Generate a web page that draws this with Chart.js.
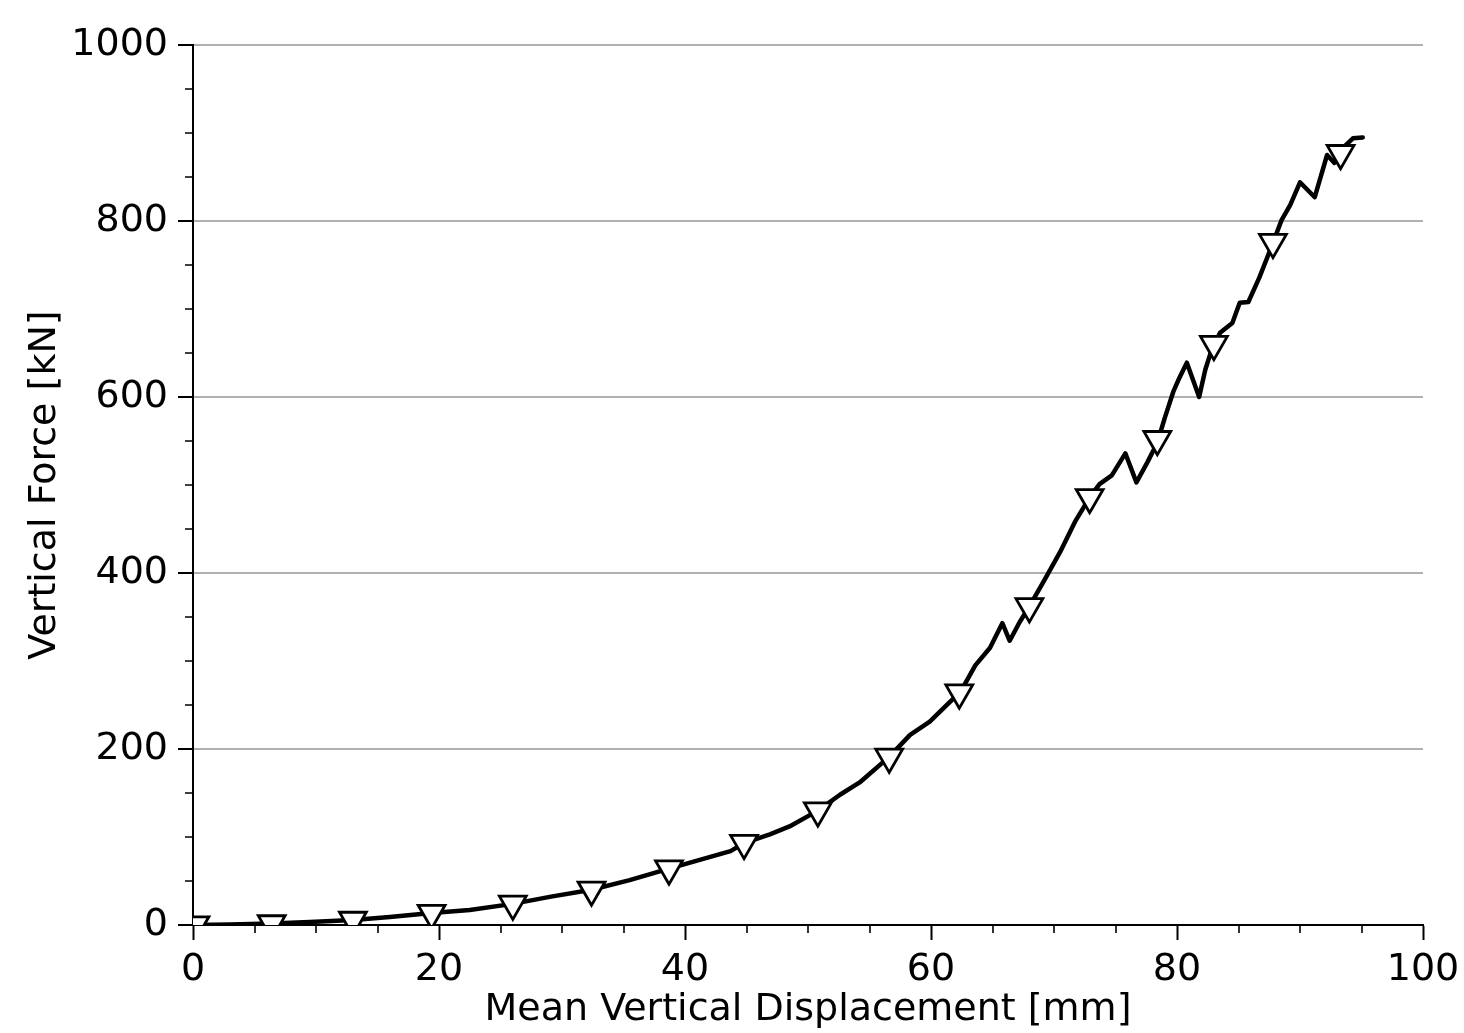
<!DOCTYPE html>
<html>
<head>
<meta charset="utf-8">
<script src="https://cdn.jsdelivr.net/npm/chart.js@4.4.1/dist/chart.umd.min.js"></script>
<style>
  html, body { margin: 0; padding: 0; background: #fff; }
  #wrap { width: 1464px; height: 1033px; }
</style>
</head>
<body>
<div id="wrap"><canvas id="chart"></canvas></div>
<script>
// measured curve: mean vertical displacement [mm] vs vertical force [kN]
const dispMm = [0, 3.0, 6.4, 9.5, 13.0, 16.0, 19.4, 22.5, 26.0, 29.0, 32.4, 35.5, 38.7, 41.2, 43.7, 44.8,
    46.9, 48.5, 50.8, 52.6, 54.2, 56.6, 58.3, 59.9, 61.5, 62.4, 63.6, 64.8, 65.8, 66.4, 67.2, 68.0,
    69.3, 70.5, 71.7, 72.9, 73.7, 74.7, 75.8, 76.7, 77.6, 78.4, 79.0, 79.7, 80.2, 80.8, 81.8, 82.3,
    82.8, 83.5, 84.5, 85.1, 85.8, 86.7, 87.8, 88.5, 89.2, 90.0, 91.2, 92.2, 92.8, 93.7, 94.3, 95.1];
const forceKn = [0, 0.6, 1.7, 3.4, 5.7, 9, 13.6, 17, 24, 32, 40, 51, 64, 74, 84, 93,
    103, 112, 130, 148, 162, 191, 216, 231, 253, 265, 295, 315, 343, 323, 344, 362,
    394, 424, 458, 486, 501, 511, 536, 503, 526, 548, 576, 606, 622, 639, 600, 631,
    653, 673, 684, 707, 708, 736, 775, 801, 818, 844, 827, 875, 866, 886, 894, 895];

// triangle markers along the curve
const markerMm = [0.2, 6.4, 13.0, 19.4, 26.0, 32.4, 38.7, 44.8, 50.8, 56.6, 62.3, 68.0, 72.9, 78.4, 83.0, 87.8, 93.3];
const markerKn = [0.5, 1.7, 5.7, 13.6, 24, 40, 64, 93, 130, 191, 264, 362, 486, 552, 660, 776, 877];

const xMinorTicks = [5, 10, 15, 25, 30, 35, 45, 50, 55, 65, 70, 75, 85, 90, 95];
const yMinorTicks = [50, 100, 150, 250, 300, 350, 450, 500, 550, 650, 700, 750, 850, 900, 950];

const FONT = 'DejaVu Sans';

const toPoints = (xs, ys) => xs.map((v, i) => ({ x: v, y: ys[i] }));

// white page + minor ticks (matplotlib style)
const minorTicks = {
    id: 'minorTicks',
    beforeDraw(chart) {
        const ctx = chart.ctx;
        ctx.save();
        ctx.fillStyle = '#fff';
        ctx.fillRect(0, 0, chart.width, chart.height);
        ctx.restore();
    },
    afterDraw(chart) {
        const { ctx, chartArea } = chart;
        const sx = chart.scales.x, sy = chart.scales.y;
        ctx.save();
        ctx.strokeStyle = '#000';
        ctx.lineWidth = 1.6;
        ctx.beginPath();
        xMinorTicks.forEach(v => {
            const px = Math.round(sx.getPixelForValue(v));
            ctx.moveTo(px, chartArea.bottom);
            ctx.lineTo(px, chartArea.bottom + 8);
        });
        yMinorTicks.forEach(v => {
            const py = Math.round(sy.getPixelForValue(v));
            ctx.moveTo(chartArea.left, py);
            ctx.lineTo(chartArea.left - 8, py);
        });
        ctx.stroke();
        ctx.restore();
    }
};

const ctx = document.getElementById('chart').getContext('2d');

new Chart(ctx, {
    type: 'line',
    data: {
        datasets: [{
            label: 'markers',
            data: toPoints(markerMm, markerKn),
            showLine: false,
            pointStyle: 'triangle',
            rotation: 180,
            pointRadius: 15.5,
            pointBackgroundColor: '#fff',
            pointBorderColor: '#000',
            pointBorderWidth: 2.8
        }, {
            label: 'force',
            data: toPoints(dispMm, forceKn),
            borderColor: '#000',
            borderWidth: 4.5,
            borderJoinStyle: 'round',
            borderCapStyle: 'round',
            pointRadius: 0,
            tension: 0,
            fill: false
        }]
    },
    options: {
        responsive: true,
        maintainAspectRatio: false,
        animation: false,
        layout: {
            padding: { left: 22, top: 45, right: 41, bottom: 0 }
        },
        scales: {
            x: {
                type: 'linear',
                min: 0,
                max: 100,
                afterFit: (scale) => {
                    scale.height = 108;
                    scale.paddingLeft = 0;
                    scale.paddingRight = 0;
                },
                ticks: {
                    stepSize: 20,
                    color: '#000',
                    padding: 7,
                    maxRotation: 0,
                    font: { family: FONT, size: 38 }
                },
                grid: {
                    color: 'rgba(0,0,0,0)',
                    tickColor: '#000',
                    tickLength: 15,
                    tickWidth: 2
                },
                border: { color: '#000', width: 2 },
                title: {
                    display: true,
                    text: 'Mean Vertical Displacement [mm]',
                    color: '#000',
                    padding: { top: 0, bottom: 0 },
                    font: { family: FONT, size: 38 }
                }
            },
            y: {
                type: 'linear',
                min: 0,
                max: 1000,
                afterFit: (scale) => {
                    scale.width = 171;
                    scale.paddingTop = 0;
                    scale.paddingBottom = 0;
                },
                ticks: {
                    stepSize: 200,
                    color: '#000',
                    padding: 10,
                    callback: (v) => String(v),
                    font: { family: FONT, size: 38 }
                },
                grid: {
                    color: '#b0b0b0',
                    lineWidth: 2,
                    tickColor: '#000',
                    tickLength: 15,
                    tickWidth: 2
                },
                border: { color: '#000', width: 2 },
                title: {
                    display: true,
                    text: 'Vertical Force [kN]',
                    color: '#000',
                    padding: { top: 0, bottom: 0 },
                    font: { family: FONT, size: 38 }
                }
            }
        },
        plugins: {
            legend: { display: false },
            tooltip: { enabled: false }
        }
    },
    plugins: [minorTicks]
});
</script>
</body>
</html>
